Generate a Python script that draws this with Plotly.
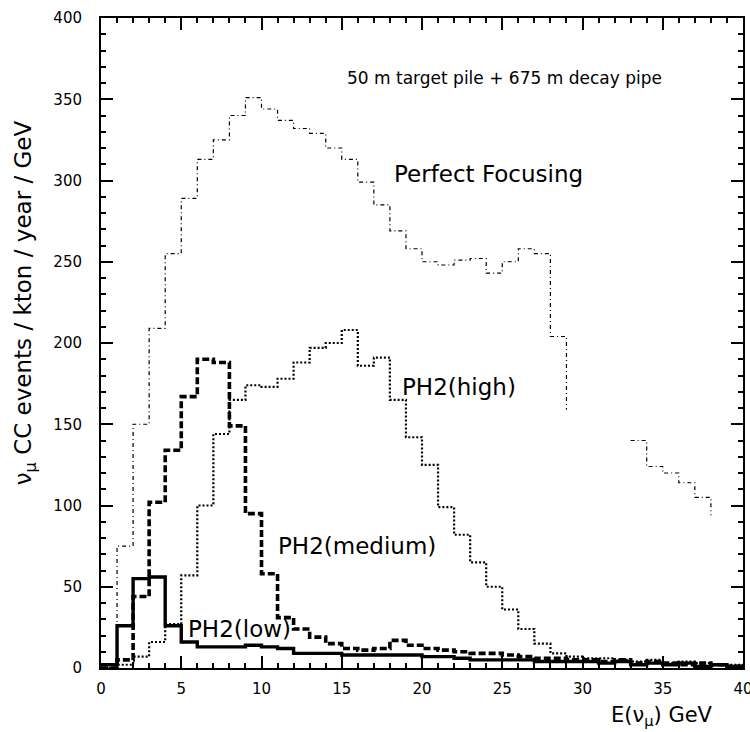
import plotly.graph_objects as go

# Bin edges (GeV): 1 GeV bins from 0 to 40
bin_lo = list(range(0, 40))

# Perfect Focusing (bins 0..37, last entry = level reached at E=38; None = no visible line)
pf_vals = [0, 75, 150, 209, 255, 289, 313, 325, 340, 351,
           344, 337, 332, 329, 320, 313, 299, 285, 269, 258,
           250, 248, 251, 252, 243, 250, 258, 255, 204, 159,
           None, None, None, 140, 124, 120, 114, 105, 94]

# PH2(high)
high_vals = [0, 2, 7, 16, 27, 57, 100, 144, 165, 174,
             173, 178, 188, 197, 200, 208, 186, 191, 165, 142,
             125, 99, 82, 65, 50, 36, 24, 15, 9, 7,
             6, 6, 5, 4, 5, 3, 4, 3, 2, 2]

# PH2(medium)
med_vals = [0, 5, 44, 102, 134, 167, 190, 188, 149, 95,
            58, 31, 24, 19, 15, 12, 11, 12, 17, 14,
            12, 11, 10, 9, 9, 8, 7, 6, 6, 5,
            5, 4, 5, 3, 4, 3, 2, 3, 2, 1]

# PH2(low)
low_vals = [2, 26, 55, 56, 26, 16, 13, 13, 13, 14,
            13, 12, 9, 9, 9, 8, 8, 8, 8, 8,
            7, 7, 6, 5, 5, 5, 5, 4, 4, 4,
            4, 3, 4, 2, 3, 2, 3, 1, 2, 1]

y_ticks = [0, 50, 100, 150, 200, 250, 300, 350, 400]
x_ticks = [0, 5, 10, 15, 20, 25, 30, 35, 40]


def step_xy(vals):
    xs = bin_lo[:len(vals)]
    ys = list(vals)
    if len(vals) == len(bin_lo):
        xs = xs + [40]
        ys = ys + [vals[-1]]
    return xs, ys


fig = go.Figure()

series = [
    (pf_vals, dict(color="black", width=1.2, dash="4px,3px,1px,3px")),
    (high_vals, dict(color="black", width=2.2, dash="2px,2px")),
    (med_vals, dict(color="black", width=3.6, dash="7px,3px")),
    (low_vals, dict(color="black", width=3.4)),
]
for vals, ln in series:
    xs, ys = step_xy(vals)
    fig.add_trace(go.Scatter(x=xs, y=ys, mode="lines", line=dict(shape="hv", **ln),
                             connectgaps=False, showlegend=False, hoverinfo="skip"))

font = "DejaVu Sans"
lab = dict(family=font, size=23, color="black")

annotations = [
    dict(x=15.2, y=363, xref="x", yref="y", text="50 m target pile + 675 m decay pipe",
         showarrow=False, xanchor="left", yanchor="middle",
         font=dict(family=font, size=17, color="black")),
    dict(x=18.1, y=304, xref="x", yref="y", text="Perfect Focusing", showarrow=False,
         xanchor="left", yanchor="middle", font=lab),
    dict(x=18.6, y=173, xref="x", yref="y", text="PH2(high)", showarrow=False,
         xanchor="left", yanchor="middle", font=lab),
    dict(x=10.9, y=75, xref="x", yref="y", text="PH2(medium)", showarrow=False,
         xanchor="left", yanchor="middle", font=lab),
    dict(x=5.3, y=24, xref="x", yref="y", text="PH2(low)", showarrow=False,
         xanchor="left", yanchor="middle", font=lab),
    dict(x=-0.118, y=0.5615, xref="paper", yref="paper",
         text="ν<sub>μ</sub> CC events / kton / year / GeV", textangle=-90,
         showarrow=False, xanchor="center", yanchor="middle", font=lab),
    dict(x=0.956, y=-0.074, xref="paper", yref="paper",
         text="E(ν<sub>μ</sub>) GeV", showarrow=False, xanchor="right", yanchor="middle",
         font=dict(family=font, size=21, color="black")),
]

axis_common = dict(
    showline=True, linecolor="black", linewidth=2, mirror="allticks",
    ticks="inside", ticklen=12, tickwidth=1.5, tickcolor="black",
    showgrid=False, zeroline=False, automargin=False,
    tickfont=dict(family=font, size=15, color="black"),
)

fig.update_layout(
    width=750, height=732,
    margin=dict(l=101, r=7, t=18, b=64, autoexpand=False),
    paper_bgcolor="white", plot_bgcolor="white",
    xaxis=dict(range=[0, 40], tickvals=x_ticks, ticktext=[str(v) for v in x_ticks],
               minor=dict(ticks="inside", ticklen=5, dtick=1, tickcolor="black"),
               ticklabelstandoff=6, ticklabeloverflow="allow", **axis_common),
    yaxis=dict(range=[0, 400], tickvals=y_ticks, ticktext=[str(v) for v in y_ticks],
               minor=dict(ticks="inside", ticklen=5, dtick=10, tickcolor="black"),
               ticklabelstandoff=14, **axis_common),
    annotations=annotations,
)

fig.write_html("out.html")
